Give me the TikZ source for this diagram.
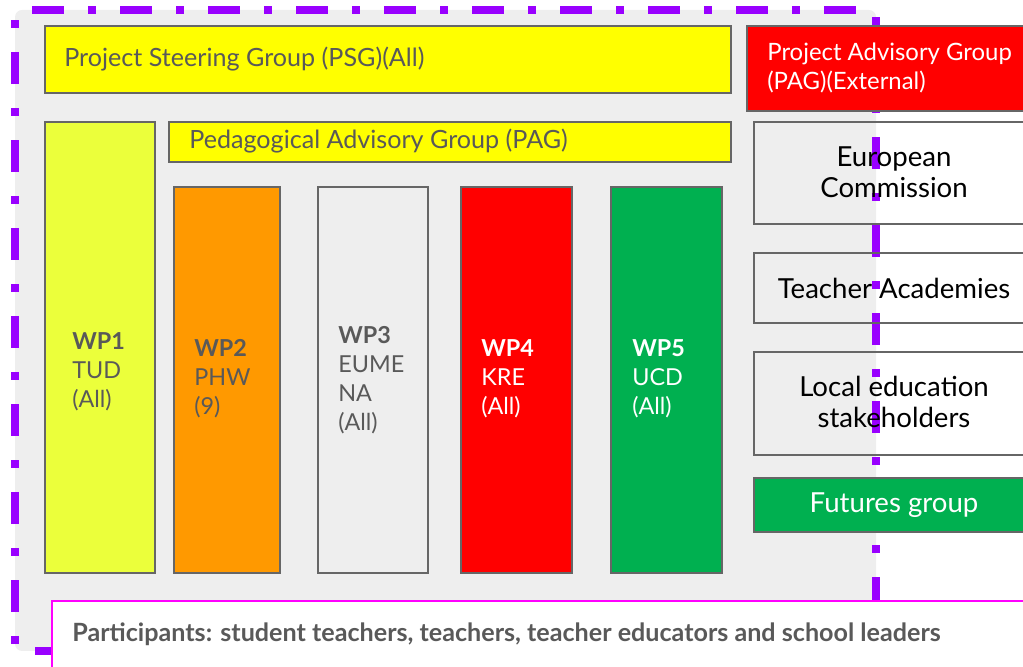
\documentclass[tikz,border=0pt]{standalone}
\usepackage{fontspec}
\setmainfont{Lato}
\usepackage{xcolor}
\usepackage{tikz}

\definecolor{bggrey}{HTML}{EEEEEE}
\definecolor{wpurple}{HTML}{9900FF}
\definecolor{wyellow}{HTML}{FFFF00}
\definecolor{wlime}{HTML}{EBFF3B}
\definecolor{worange}{HTML}{FF9900}
\definecolor{wred}{HTML}{FF0000}
\definecolor{wgreen}{HTML}{00B050}
\definecolor{txtgrey}{HTML}{595959}
\definecolor{edgegrey}{HTML}{666666}
\definecolor{wmagenta}{HTML}{FF00FF}

\begin{document}
\begin{tikzpicture}[
  every node/.style={font=\fontsize{14.3}{16.5}\selectfont, inner sep=0pt},
  box/.style={draw=edgegrey, line width=1pt},
  lbl/.style={anchor=west, align=left, text=txtgrey},
  wp/.style={lbl, font=\fontsize{13.3}{16.5}\selectfont},
  side/.style={align=center, text=black, font=\fontsize{15.7}{17.6}\selectfont}
]
\clip (0,0) rectangle (20.46,13.34);

%project frame
\draw[fill=bggrey, draw=wpurple, line width=4pt, rounded corners=4pt,
  dash pattern=on 0.16cm off 0.48cm on 0.64cm off 0.48cm]
  (0.30,0.32) rectangle (17.52,13.14);

%right hand groups (no fill)
\draw[box] (15.08,10.90) rectangle (20.60,8.86);
\draw[box] (15.08,8.28) rectangle (20.60,6.88);
\draw[box] (15.08,6.30) rectangle (20.60,4.24);

\node[side] (ec) at (17.88,9.90) {European\\Commission};
\node[side] (ta) at (17.88,7.58) {Teacher Academies};
\node[side] (les) at (17.88,5.30) {Local education\\stakeholders};

%steering groups
\draw[box, fill=wyellow] (0.90,12.82) rectangle (14.62,11.48);
\node[lbl] (psg) at (1.28,12.16) {Project Steering Group (PSG)(All)};

\draw[box, fill=wred] (14.94,12.82) rectangle (20.60,11.12);
\node[lbl, text=white, font=\fontsize{13.6}{16}\selectfont] (pag) at (15.34,11.98)
  {Project Advisory Group\\(PAG)(External)};

\draw[box, fill=wyellow] (3.38,10.90) rectangle (14.62,10.10);
\node[lbl] (ped) at (3.78,10.52) {Pedagogical Advisory Group (PAG)};

%work packages
\draw[box, fill=wlime] (0.90,10.90) rectangle (3.10,1.88);
\draw[box, fill=worange] (3.48,9.60) rectangle (5.60,1.88);
\draw[box, fill=bggrey] (6.36,9.60) rectangle (8.56,1.88);
\draw[box, fill=wred] (9.22,9.60) rectangle (11.44,1.88);
\draw[box, fill=wgreen] (12.22,9.60) rectangle (14.44,1.88);

\node[wp] (wp1) at (1.44,5.90) {\textbf{WP1}\\TUD\\(All)};
\node[wp] (wp2) at (3.88,5.76) {\textbf{WP2}\\PHW\\(9)};
\node[wp] (wp3) at (6.76,5.74) {\textbf{WP3}\\EUME\\NA\\(All)};
\node[wp, text=white] (wp4) at (9.62,5.76) {\textbf{WP4}\\KRE\\(All)};
\node[wp, text=white] (wp5) at (12.64,5.76) {\textbf{WP5}\\UCD\\(All)};

%futures group
\draw[box, fill=wgreen] (15.08,3.78) rectangle (20.60,2.70);
\node[side, text=white] (fg) at (17.88,3.24) {Futures group};

%participants
\draw[wmagenta, fill=white, line width=1.2pt] (1.04,1.32) rectangle (20.80,-0.30);
\node[lbl, font=\bfseries\fontsize{14.3}{16}\selectfont] (part) at (1.44,0.66)
  {Participants: student teachers, teachers, teacher educators and school leaders};

\end{tikzpicture}
\end{document}
